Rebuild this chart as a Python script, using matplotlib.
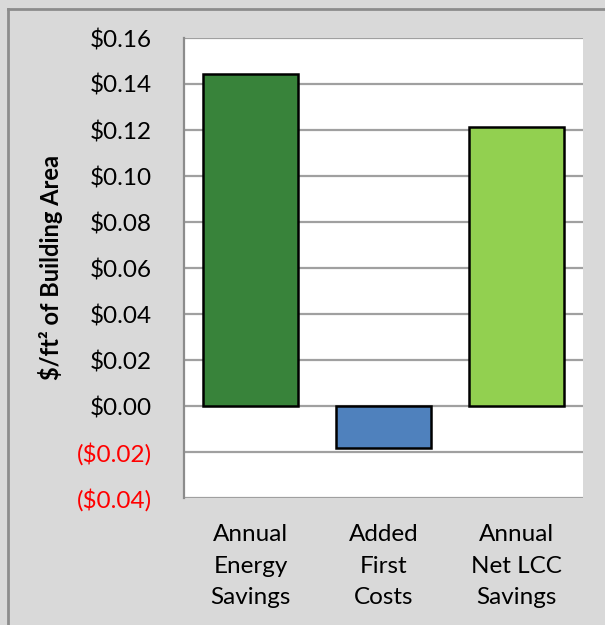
import numpy as np
import matplotlib.pyplot as plt
from matplotlib.lines import Line2D
from matplotlib.ticker import FuncFormatter

categories = ["Annual\nEnergy\nSavings", "Added\nFirst\nCosts", "Annual\nNet LCC\nSavings"]
values = [0.1443, -0.0183, 0.1214]
bar_colors = ["#38833A", "#4F81BD", "#92D050"]
y_ticks = [-0.04, -0.02, 0.00, 0.02, 0.04, 0.06, 0.08, 0.10, 0.12, 0.14, 0.16]

plt.rcParams["font.family"] = ["Lato", "DejaVu Sans"]

def money(v, pos=None):
    if v < -1e-9:
        return "(${:.2f})".format(abs(v))
    return "${:.2f}".format(abs(v))

fig = plt.figure(figsize=(6.05, 6.25), dpi=100, facecolor="#D9D9D9")
ax = fig.add_axes([184/605, 1-498/625, (583-184)/605, (498-38)/625])
ax.set_facecolor("white")

x = np.arange(len(categories))
ax.bar(x, values, width=0.72, color=bar_colors, edgecolor="black", linewidth=1.8, zorder=3)

ax.set_ylim(-0.04, 0.16)
ax.set_xlim(-0.5, 2.5)
ax.set_yticks(y_ticks)
ax.yaxis.set_major_formatter(FuncFormatter(money))
ax.grid(axis="y", color="#A0A0A0", linewidth=1.6, zorder=0)
ax.set_axisbelow(True)
for s in ["top", "right", "bottom"]:
    ax.spines[s].set_visible(False)
ax.spines["left"].set_color("#8C8C8C")
ax.spines["left"].set_linewidth(1.6)

ax.tick_params(axis="y", length=0, pad=23, labelsize=17.5)
for lab, v in zip(ax.get_yticklabels(), y_ticks):
    lab.set_color("red" if v < 0 else "black")

ax.set_xticks(x)
ax.set_xticklabels(categories, fontsize=17.5, linespacing=1.62)
ax.tick_params(axis="x", length=0, pad=19)

ax.set_ylabel("$/ft\u00b2 of Building Area", fontsize=17, fontweight="bold", labelpad=10)

# outer chart border (only left and top visible in the crop)
fig.add_artist(Line2D([8/605, 8/605], [0, 1-9/625], transform=fig.transFigure, color="#8C8C8C", linewidth=2))
fig.add_artist(Line2D([8/605, 1], [1-9/625, 1-9/625], transform=fig.transFigure, color="#8C8C8C", linewidth=2))

fig.savefig("out.png", dpi=100, facecolor=fig.get_facecolor())
